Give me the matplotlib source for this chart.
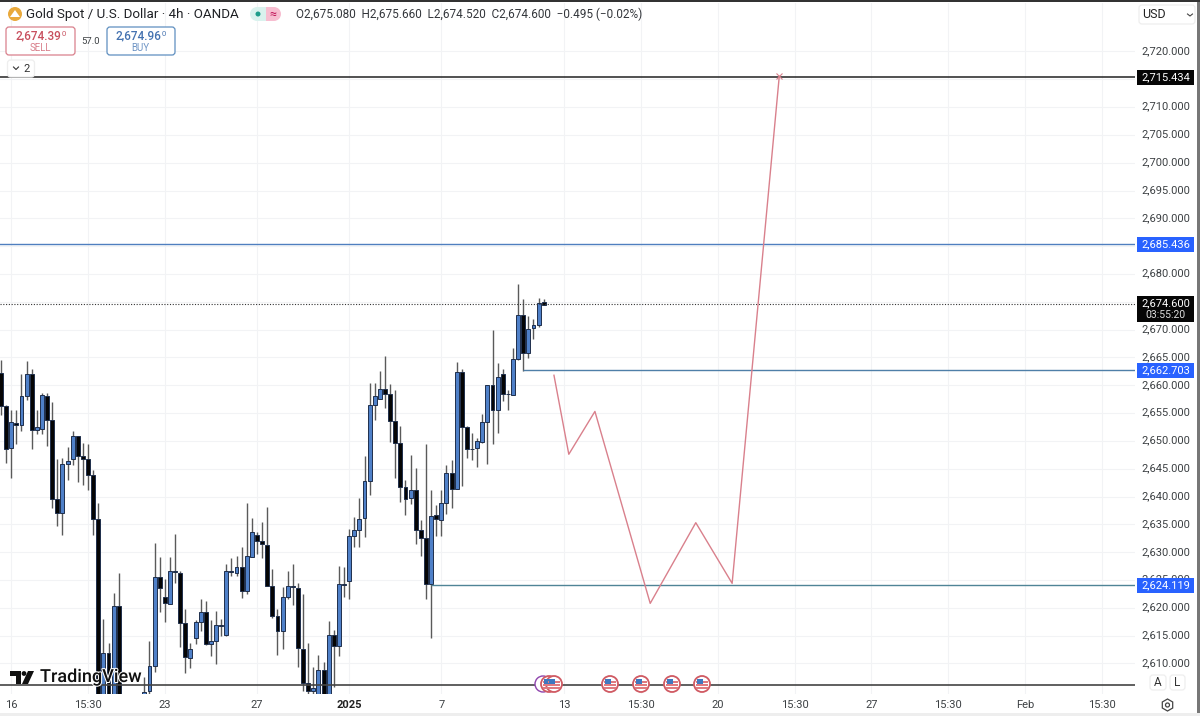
import numpy as np
import matplotlib.pyplot as plt
import matplotlib.patheffects as pe
from matplotlib.patches import FancyBboxPatch, Circle, Rectangle, Polygon, RegularPolygon

plt.rcParams['font.family'] = ['Roboto', 'DejaVu Sans']

# candles, oldest first (the ones under the chart bottom are estimates)
opens = [2662.2,2656.3,2648.7,2653.3,2652.8,2658.0,2662.1,2652.0,2652.1,2658.1,
2653.7,2639.5,2637.0,2645.9,2646.7,2650.9,2647.3,2646.8,2643.9,2635.9,
2600,2611.9,2602,2620.3,2596,2594,2597,2600,2604.3,2605.0,
2609.5,2625.5,2622.0,2620.7,2626.7,2626.2,2617.3,2611.0,2614.6,2617.4,
2619.2,2613.5,2614.1,2616.9,2615.2,2626.6,2626.3,2627.3,2623.1,2629.2,
2633.1,2632.1,2631.3,2623.9,2618.5,2615.8,2621.9,2624.0,2623.6,2612.6,
2606.5,2605.0,2603,2608.8,2602,2615.2,2613.1,2624.2,2624.9,2632.9,
2633.9,2636.1,2642.8,2656.4,2657.6,2659.3,2658.5,2653.5,2649.7,2641.7,
2639.7,2641.2,2633.9,2632.6,2624.2,2636.6,2635.8,2638.8,2644.3,2641.3,
2662.3,2652.5,2648.6,2648.7,2649.8,2653.4,2660.0,2655.5,2662.1,2658.5,
2658.2,2664.8,2672.6,2665.8,2670.3,2670.9,2674.9]
closes = [2656.3,2648.5,2653.4,2652.8,2658.0,2662.1,2652.0,2652.5,2658.2,2653.7,
2639.6,2637.0,2645.9,2646.4,2650.9,2647.3,2646.7,2643.8,2635.9,2600,
2611.9,2601,2620.3,2596,2594,2597,2599,2598,2604.9,2609.5,
2625.5,2623.5,2620.9,2626.7,2626.4,2617.3,2611.1,2612.6,2617.4,2619.2,
2613.5,2614.1,2616.9,2616.7,2626.6,2626.4,2627.3,2623.1,2629.3,2633.7,
2632.1,2631.4,2623.9,2618.6,2615.8,2621.9,2624.0,2623.7,2612.8,2606.5,
2605.0,2605.6,2608.8,2602,2615.2,2613.1,2624.2,2624.1,2632.9,2633.9,
2636.0,2642.8,2656.4,2658.1,2659.3,2658.5,2653.5,2649.7,2641.8,2639.6,
2641.2,2633.9,2632.6,2624.2,2636.5,2635.9,2638.8,2644.3,2641.3,2662.3,
2652.5,2648.5,2648.5,2649.9,2653.4,2660.0,2655.5,2661.5,2658.5,2658.4,
2664.8,2672.6,2665.8,2670.1,2670.9,2674.8,2674.5]
highs = [2664.5,2656.4,2655.5,2655.6,2662.0,2664.3,2663.0,2655.6,2658.6,2658.6,
2657.0,2646.8,2647.0,2648.9,2651.7,2650.9,2649.6,2649.4,2644.8,2638.8,
2618.0,2613.7,2622.7,2626.3,2599,2600,2602,2603,2607.6,2614.1,
2631.7,2629.2,2625.1,2629.1,2633.2,2626.7,2619.8,2613.7,2617.9,2621.5,
2621.2,2617.9,2619.4,2618.0,2627.8,2629.0,2629.4,2630.9,2638.9,2636.1,
2633.6,2635.4,2638.1,2627.0,2619.7,2623.7,2626.6,2627.9,2624.5,2622.5,
2613.7,2609.4,2611.5,2610.3,2617.7,2616.1,2627.5,2627.3,2634.2,2636.3,
2639.8,2647.2,2660.4,2660.4,2662.5,2665.2,2660.3,2659.2,2652.6,2642.9,
2647.4,2645.2,2635.7,2649.4,2641.1,2638.5,2641.1,2645.6,2646.6,2664.2,
2663.0,2652.6,2651.4,2650.5,2654.8,2660.1,2670.0,2664.0,2663.0,2659.1,
2666.7,2678.2,2675.5,2672.4,2672.0,2675.7,2675.5]
lows = [2654.6,2646.1,2643.4,2649.5,2651.7,2657.4,2648.5,2651.3,2651.2,2649.1,
2638.0,2634.7,2633.0,2642.9,2645.6,2642.7,2642.0,2641.1,2633.0,2598,
2597,2598,2599,2593,2590,2591,2595,2596,2604.0,2604.6,
2608.5,2619.2,2617.4,2620.6,2624.5,2613.0,2608.2,2609.1,2613.5,2615.8,
2613.4,2611.3,2609.9,2614.9,2615.0,2625.7,2625.8,2621.8,2622.5,2629.2,
2629.7,2628.9,2623.9,2618.2,2611.6,2612.6,2621.5,2620.5,2609.4,2605.0,
2604.6,2604.6,2601,2600,2600,2605.8,2611.3,2622.0,2621.6,2631.0,
2631.0,2632.7,2640.3,2653.8,2657.5,2655.9,2649.8,2643.4,2639.0,2636.6,
2638.7,2631.5,2629.3,2621.6,2614.6,2632.9,2632.9,2636.9,2638.0,2641.3,
2641.9,2647.0,2646.5,2645.3,2649.7,2645.8,2649.4,2651.5,2657.2,2655.6,
2658.2,2664.5,2662.5,2664.9,2668.4,2670.5,2674.4]

# drawn levels and the projected path
top_level = 2715.434
upper_level = 2685.436
mid_level = 2662.703
low_level = 2624.119
base_level = 2606.05
last_price = 2674.6
mid_start = 102
low_start = 84
path_x = [108.0, 110.9, 116.0, 126.8, 135.7, 142.8, 152.0]
path_y = [2661.8, 2647.6, 2655.3, 2620.8, 2635.3, 2624.4, 2715.5]

time_ticks = [2, 17, 32, 50, 68, 86, 110, 125, 140, 155, 170, 185, 200, 215]
time_labels = ['16', '15:30', '23', '27', '2025', '7', '13', '15:30', '20', '15:30', '27', '15:30', 'Feb', '15:30']
price_ticks = np.arange(2610, 2725, 5)
hidden_ticks = [2675, 2685, 2715]
event_x = [549, 554, 610, 641, 672, 702]

W, H = 1200, 716
BAR_PX = 5.12
fig = plt.figure(figsize=(12, 7.16), dpi=100, facecolor='white')

ax = fig.add_axes([0, (H - 693.5) / H, 1135 / W, 691 / H])
ax.set_xlim(-1 / BAR_PX, 1134 / BAR_PX)
ax.set_ylim(2604.6, 2728.8)
for s in ax.spines.values():
    s.set_visible(False)
ax.tick_params(left=False, bottom=False, labelleft=False, labelbottom=False)
ax.set_xticks(time_ticks)
ax.set_yticks(price_ticks)
ax.grid(True, color='#f2f3f5', lw=0.8)
ax.set_axisbelow(True)
x_end = ax.get_xlim()[1]

x = np.arange(len(opens))
o, c = np.array(opens), np.array(closes)
up = c >= o
ax.vlines(x, lows, highs, color='#5a5a5a', lw=1.0, zorder=2)
ax.bar(x, np.abs(c - o), bottom=np.minimum(o, c), width=0.76,
       color=np.where(up, '#4f80c8', '#050505'), edgecolor='#1f2f4c', linewidth=0.7, zorder=3)

ax.axhline(top_level, color='#222222', lw=1.1, zorder=4)
ax.axhline(upper_level, color='#4f7fbf', lw=1.0, zorder=4)
ax.hlines(mid_level, mid_start, x_end, color='#4f7fa8', lw=1.0, zorder=4)
ax.hlines(low_level, low_start, x_end, color='#4f8496', lw=1.0, zorder=4)
ax.axhline(base_level, color='#444444', lw=1.2, zorder=4)
ax.axhline(last_price, color='#333333', lw=0.8, ls=(0, (1, 1.5)), zorder=4)
ax.plot(path_x, path_y, color='#d9808c', lw=1.0, zorder=5)
ax.plot(path_x[-1], path_y[-1], marker='x', ms=5, mew=0.8, color='#d9808c', zorder=5)

# everything around the plot is placed in pixels
ui = fig.add_axes([0, 0, 1, 1], facecolor='none')
ui.set_xlim(0, W)
ui.set_ylim(H, 0)
ui.axis('off')
GREY = '#3c4043'
BLUE = '#2962ff'


def box(x0, y0, x1, y1, ec, fc='white', lw=0.9, r=3):
    ui.add_patch(FancyBboxPatch((x0 + r, y0 + r), x1 - x0 - 2 * r, y1 - y0 - 2 * r,
                                boxstyle='round,pad=%d,rounding_size=%d' % (r, r),
                                ec=ec, fc=fc, lw=lw, zorder=6))


def tag(y, text, fc):
    ui.add_patch(Rectangle((1137, y - 7.5), 57, 15, fc=fc, ec='none', zorder=7))
    ui.text(1165.5, y, text, color='white', fontsize=8, ha='center', va='center', zorder=8)


# right price scale
ui.add_patch(Rectangle((1197, 0), 3, H, fc='#777777', ec='none', zorder=9))
ui.add_patch(Rectangle((0, 0), W, 1.5, fc='#333333', ec='none', zorder=9))
ui.add_patch(Rectangle((0, 713), W, 3, fc='#eeeeee', ec='none', zorder=9))
for p in price_ticks:
    if p in hidden_ticks:
        continue
    y_px = 51 + (2720 - p) * 5.564
    ui.text(1166, y_px, '{:,.3f}'.format(p), color=GREY, fontsize=8, ha='center', va='center')

tag(77, '2,715.434', '#060606')
tag(244, '2,685.436', BLUE)
tag(370.5, '2,662.703', BLUE)
tag(585, '2,624.119', BLUE)
ui.add_patch(Rectangle((1137, 296), 57, 26, fc='#060606', ec='none', zorder=7))
ui.text(1165.5, 303.5, '2,674.600', color='white', fontsize=8, ha='center', va='center', zorder=8)
ui.text(1165.5, 315, '03:55:20', color='#dddddd', fontsize=7.5, ha='center', va='center', zorder=8)

box(1139, 5, 1195, 24, '#eeeeee')
ui.text(1142, 15, 'USD', color='#222222', fontsize=9, ha='left', va='center', zorder=8)
ui.plot([1187.5, 1190, 1192.5], [14, 16, 14], color='#444444', lw=0.8, zorder=8)

box(1150, 675, 1166, 690, '#eeeeee')
box(1170, 675, 1185, 690, '#eeeeee')
ui.text(1157.5, 682.5, 'A', color='#333333', fontsize=8.5, ha='center', va='center', zorder=8)
ui.text(1177, 682.5, 'L', color='#333333', fontsize=8.5, ha='center', va='center', zorder=8)
ui.add_patch(RegularPolygon((1167.5, 705), 6, radius=6, fc='white', ec='#444444', lw=0.9, zorder=8))
ui.add_patch(Circle((1167.5, 705), 2, fc='white', ec='#444444', lw=0.9, zorder=8))

# time axis labels
for t, lab in zip(time_ticks, time_labels):
    px = 1 + t * BAR_PX
    ui.text(px, 705, lab, color='#222222' if lab == '2025' else GREY, fontsize=8,
            fontweight='bold' if lab == '2025' else 'normal', ha='center', va='center')

# header
ui.add_patch(Circle((15, 14), 7, fc='#e9a93c', ec='none', zorder=8))
ui.add_patch(Polygon([[10, 17], [15, 10], [20, 17]], fc='white', ec='none', zorder=8))
ui.text(26, 14.5, 'Gold Spot / U.S. Dollar · 4h · OANDA', color='#1f2125', fontsize=9.6,
        ha='left', va='center')
ui.add_patch(Rectangle((257, 7), 9, 14, fc='#d9f2ee', ec='none', zorder=6))
ui.add_patch(Circle((257, 14), 7, fc='#d9f2ee', ec='none', zorder=6))
ui.add_patch(Rectangle((266, 7), 8, 14, fc='#f7bdd0', ec='none', zorder=6))
ui.add_patch(Circle((274, 14), 7, fc='#f7bdd0', ec='none', zorder=6))
ui.add_patch(Circle((258, 14), 2.5, fc='#1f9d8b', ec='none', zorder=7))
ui.text(273, 14, '≈', color='#c2185b', fontsize=9, ha='center', va='center', zorder=7)
ui.text(296, 14.5, 'O2,675.080  H2,675.660  L2,674.520  C2,674.600  −0.495 (−0.02%)', color='#33363b',
        fontsize=8.5, ha='left', va='center')

box(6, 27, 75, 55, '#d9808c')
ui.text(38, 36, '2,674.39', color='#c8505f', fontsize=8.5, fontweight='medium', ha='center', va='center', zorder=8)
ui.text(63.5, 34.5, '0', color='#c8505f', fontsize=5.5, ha='center', va='center', zorder=8)
ui.text(40, 48, 'SELL', color='#d9808c', fontsize=7, ha='center', va='center', zorder=8)
ui.text(91, 41, '57.0', color=GREY, fontsize=6.8, ha='center', va='center')
box(107, 27, 175, 55, '#5f8fc0')
ui.text(138, 36, '2,674.96', color='#4472b0', fontsize=8.5, fontweight='medium', ha='center', va='center', zorder=8)
ui.text(163.5, 34.5, '0', color='#4472b0', fontsize=5.5, ha='center', va='center', zorder=8)
ui.text(140, 48, 'BUY', color='#6f95c5', fontsize=7, ha='center', va='center', zorder=8)
box(7.5, 60, 34.5, 77, '#eeeeee')
ui.plot([13.5, 16, 18.5], [67, 69.5, 67], color='#333333', lw=0.8, zorder=8)
ui.text(27, 68.5, '2', color='#333333', fontsize=8, ha='center', va='center', zorder=8)

# watermark
ui.add_patch(Polygon([[10, 671], [21, 671], [21, 684], [16, 684], [16, 676], [10, 676]], fc='#111111', ec='none', zorder=8))
ui.add_patch(Circle((24, 673.5), 2.4, fc='#111111', ec='none', zorder=8))
ui.add_patch(Polygon([[28, 671], [34, 671], [28, 684], [22, 684]], fc='#111111', ec='none', zorder=8))
ui.text(40, 677, 'TradingView', color='#111111', fontsize=13, fontweight='medium', ha='left', va='center', zorder=8,
        path_effects=[pe.withStroke(linewidth=1.5, foreground='white')])

# economic event markers
ui.add_patch(Circle((543, 684), 8, fc='white', ec='#8e44ad', lw=1.0, zorder=8))
for ex in event_x:
    ui.add_patch(Circle((ex, 684), 8, fc='white', ec='#d05a63', lw=1.3, zorder=8))
    for k in range(3):
        ui.add_patch(Rectangle((ex - 6, 681 + k * 3), 12, 1.5, fc='#e07a80', ec='none', zorder=9))
    ui.add_patch(Rectangle((ex - 5, 679), 6, 5, fc='#3f78c0', ec='none', zorder=9))

fig.savefig('out.png', dpi=100)
